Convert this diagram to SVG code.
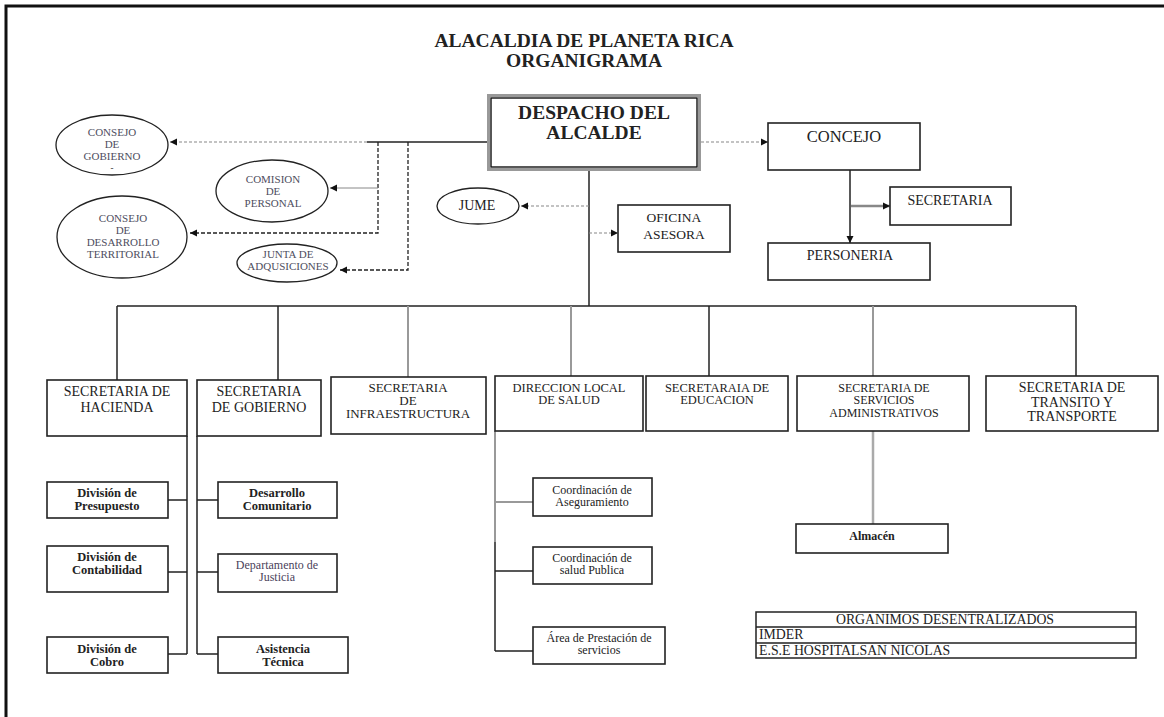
<svg xmlns="http://www.w3.org/2000/svg" width="1164" height="717" viewBox="0 0 1164 717" font-family="'Liberation Serif', 'DejaVu Serif', serif">
<style>
text{font-family:'Liberation Serif','DejaVu Serif',serif;fill:#222}
.m{text-anchor:middle}
.s{text-anchor:start}
.box{fill:#fff;stroke:#222;stroke-width:1.6}
.ell{fill:#fff;stroke:#222;stroke-width:1.3}
.et{font-size:11px;fill:#4e4e5e}
.ln{fill:none;stroke:#222;stroke-width:1.5}
.gl{fill:none;stroke:#999;stroke-width:2}
.dg{fill:none;stroke:#888;stroke-width:1.2;stroke-dasharray:3 2}
.db{fill:none;stroke:#222;stroke-width:1.3;stroke-dasharray:4 2}
.t14{font-size:14px}
.t12{font-size:12px}
.t125{font-size:12.5px}
.sb{font-size:12.5px;font-weight:bold}
.org{font-size:13.8px}
</style>
<defs>
<marker id="ah" markerWidth="8" markerHeight="8" refX="7" refY="4" orient="auto" markerUnits="userSpaceOnUse">
<path d="M0,0.5 L7,4 L0,7.5 Z" fill="#111"/>
</marker>
</defs>
<rect width="1164" height="717" fill="#fff"/>
<path d="M6,717 V6 H1164" fill="none" stroke="#111" stroke-width="3"/>

<g id="title">
<text class="m" x="584" y="47" font-size="19.5" font-weight="bold">ALACALDIA DE PLANETA RICA</text>
<text class="m" x="584" y="67" font-size="19.5" font-weight="bold">ORGANIGRAMA</text>
</g>

<g id="connectors">
<path class="ln" d="M487,142 H367"/>
<path class="dg" d="M367,142 H170" marker-end="url(#ah)"/>
<path class="db" d="M378,142 V233 H190" marker-end="url(#ah)"/>
<path fill="none" stroke="#888" stroke-width="1" d="M378,188 H330" marker-end="url(#ah)"/>
<path class="db" d="M408,142 V270 H340" marker-end="url(#ah)"/>
<path class="dg" d="M701,142 H768" marker-end="url(#ah)"/>
<path class="ln" d="M589,171 V306"/>
<path class="dg" d="M589,206 H521" marker-end="url(#ah)"/>
<path class="dg" d="M589,233 H618" marker-end="url(#ah)"/>
<path class="ln" d="M850,170 V243" marker-end="url(#ah)"/>
<path fill="none" stroke="#888" stroke-width="2.5" d="M851,206 H890" marker-end="url(#ah)"/>
<path class="ln" d="M117,306 H1076"/>
<path class="ln" d="M117,306 V380"/>
<path class="ln" d="M278,306 V380"/>
<path class="gl" d="M408,306 V377"/>
<path class="gl" d="M571,306 V376"/>
<path class="ln" d="M709,306 V376"/>
<path class="gl" d="M873,306 V376"/>
<path class="ln" d="M1076,306 V376"/>
<path class="ln" d="M187,436 V654 M168,500 H187 M168,572 H187 M168,654 H187"/>
<path class="ln" d="M197,436 V654 M197,500 H218 M197,572 H218 M197,654 H218"/>
<path class="gl" d="M495,431 V542 M495,502 H533"/>
<path class="ln" d="M495,542 V651 M495,571 H533 M495,651 H533"/>
<path fill="none" stroke="#aaa" stroke-width="2.5" d="M873,431 V524"/>
</g>

<g id="despacho">
<rect x="488.5" y="95.5" width="211" height="74" fill="#fff" stroke="#999" stroke-width="3"/>
<rect x="491" y="98" width="206" height="69" fill="none" stroke="#111" stroke-width="1.4"/>
<text class="m" x="594" y="119" font-size="19.5" font-weight="bold">DESPACHO DEL</text>
<text class="m" x="594" y="139" font-size="19.5" font-weight="bold">ALCALDE</text>
</g>

<g id="consejo-gobierno">
<ellipse class="ell" cx="112" cy="145" rx="56" ry="30"/>
<text class="et m" x="112" y="136">CONSEJO</text>
<text class="et m" x="112" y="148">DE</text>
<text class="et m" x="112" y="160">GOBIERNO</text>
<text class="m" x="112" y="171" font-size="9" fill="#4e4e5e">-</text>
</g>

<g id="comision-personal">
<ellipse class="ell" cx="272" cy="191" rx="56" ry="31"/>
<text class="et m" x="273" y="183">COMISION</text>
<text class="et m" x="273" y="195">DE</text>
<text class="et m" x="273" y="207">PERSONAL</text>
</g>

<g id="consejo-desarrollo">
<ellipse class="ell" cx="122" cy="237" rx="65" ry="41"/>
<text class="et m" x="123" y="222">CONSEJO</text>
<text class="et m" x="123" y="234">DE</text>
<text class="et m" x="123" y="246">DESARROLLO</text>
<text class="et m" x="123" y="258">TERRITORIAL</text>
</g>

<g id="junta">
<ellipse class="ell" cx="287" cy="263" rx="50" ry="19"/>
<text class="et m" x="288" y="258">JUNTA DE</text>
<text class="et m" x="288" y="270">ADQUSICIONES</text>
</g>

<g id="jume">
<ellipse class="ell" cx="478" cy="206" rx="41" ry="18"/>
<text class="m" x="477" y="210" font-size="14">JUME</text>
</g>

<g id="oficina">
<rect class="box" x="618" y="205" width="112" height="47"/>
<text class="m" x="674" y="222" font-size="13.5" fill="#333">OFICINA</text>
<text class="m" x="674" y="239" font-size="13.5" fill="#333">ASESORA</text>
</g>

<g id="concejo">
<rect class="box" x="768" y="123" width="152" height="47"/>
<text class="m" x="844" y="142" font-size="16.5">CONCEJO</text>
</g>

<g id="secretaria">
<rect class="box" x="890" y="187" width="121" height="38"/>
<text class="m" x="950" y="205" font-size="14">SECRETARIA</text>
</g>

<g id="personeria">
<rect class="box" x="768" y="243" width="162" height="37"/>
<text class="m" x="850" y="260" font-size="14">PERSONERIA</text>
</g>

<g id="hacienda">
<rect class="box" x="47" y="380" width="140" height="56"/>
<text class="t14 m" x="117" y="396">SECRETARIA DE</text>
<text class="t14 m" x="117" y="412">HACIENDA</text>
</g>

<g id="gobierno">
<rect class="box" x="197" y="380" width="124" height="56"/>
<text class="t14 m" x="259" y="396">SECRETARIA</text>
<text class="t14 m" x="259" y="412">DE GOBIERNO</text>
</g>

<g id="infraestructura">
<rect class="box" x="331" y="377" width="155" height="57"/>
<text class="m" x="408" y="392" font-size="13">SECRETARIA</text>
<text class="m" x="408" y="405" font-size="13">DE</text>
<text class="m" x="408" y="418" font-size="13">INFRAESTRUCTURA</text>
</g>

<g id="salud">
<rect class="box" x="495" y="376" width="148" height="55"/>
<text class="t125 m" x="569" y="392">DIRECCION LOCAL</text>
<text class="t125 m" x="569" y="404">DE SALUD</text>
</g>

<g id="educacion">
<rect class="box" x="646" y="376" width="142" height="55"/>
<text class="t125 m" x="717" y="392">SECRETARAIA DE</text>
<text class="t125 m" x="717" y="404">EDUCACION</text>
</g>

<g id="servicios">
<rect class="box" x="797" y="376" width="172" height="55"/>
<text class="t12 m" x="884" y="392">SECRETARIA DE</text>
<text class="t12 m" x="884" y="404">SERVICIOS</text>
<text class="t12 m" x="884" y="417">ADMINISTRATIVOS</text>
</g>

<g id="transito">
<rect class="box" x="986" y="376" width="172" height="55"/>
<text class="t14 m" x="1072" y="392">SECRETARIA DE</text>
<text class="t14 m" x="1072" y="407">TRANSITO Y</text>
<text class="t14 m" x="1072" y="421">TRANSPORTE</text>
</g>

<g id="presupuesto">
<rect class="box" x="47" y="482" width="121" height="36"/>
<text class="sb m" x="107" y="497">División de</text>
<text class="sb m" x="107" y="510">Presupuesto</text>
</g>

<g id="contabilidad">
<rect class="box" x="47" y="546" width="121" height="46"/>
<text class="sb m" x="107" y="561">División de</text>
<text class="sb m" x="107" y="574">Contabilidad</text>
</g>

<g id="cobro">
<rect class="box" x="47" y="637" width="121" height="36"/>
<text class="sb m" x="107" y="653">División de</text>
<text class="sb m" x="107" y="666">Cobro</text>
</g>

<g id="desarrollo-comunitario">
<rect class="box" x="218" y="482" width="119" height="36"/>
<text class="sb m" x="277" y="497">Desarrollo</text>
<text class="sb m" x="277" y="510">Comunitario</text>
</g>

<g id="justicia">
<rect class="box" x="218" y="554" width="119" height="38"/>
<text class="t12 m" x="277" y="569" style="fill:#4a3f5a">Departamento de</text>
<text class="t12 m" x="277" y="581" style="fill:#4a3f5a">Justicia</text>
</g>

<g id="asistencia">
<rect class="box" x="218" y="637" width="130" height="36"/>
<text class="sb m" x="283" y="653">Asistencia</text>
<text class="sb m" x="283" y="666">Técnica</text>
</g>

<g id="aseguramiento">
<rect class="box" x="533" y="478" width="119" height="38"/>
<text class="t12 m" x="592" y="494">Coordinación de</text>
<text class="t12 m" x="592" y="506">Aseguramiento</text>
</g>

<g id="salud-publica">
<rect class="box" x="533" y="547" width="119" height="37"/>
<text class="t12 m" x="592" y="562">Coordinación de</text>
<text class="t12 m" x="592" y="574">salud Publica</text>
</g>

<g id="prestacion">
<rect class="box" x="533" y="627" width="132" height="37"/>
<text class="t12 m" x="599" y="642">Área de Prestación de</text>
<text class="t12 m" x="599" y="654">servicios</text>
</g>

<g id="almacen">
<rect class="box" x="796" y="524" width="152" height="29"/>
<text class="m" x="872" y="540" font-size="12" font-weight="bold">Almacén</text>
</g>

<g id="organismos">
<rect x="756" y="612" width="380" height="46" fill="#fff" stroke="#222" stroke-width="1.5"/>
<path d="M756,627 H1136 M756,643 H1136" stroke="#222" stroke-width="1.5"/>
<text class="org m" x="945" y="624">ORGANIMOS DESENTRALIZADOS</text>
<text class="org s" x="759" y="639">IMDER</text>
<text class="org s" x="759" y="655">E.S.E HOSPITALSAN NICOLAS</text>
</g>
</svg>
